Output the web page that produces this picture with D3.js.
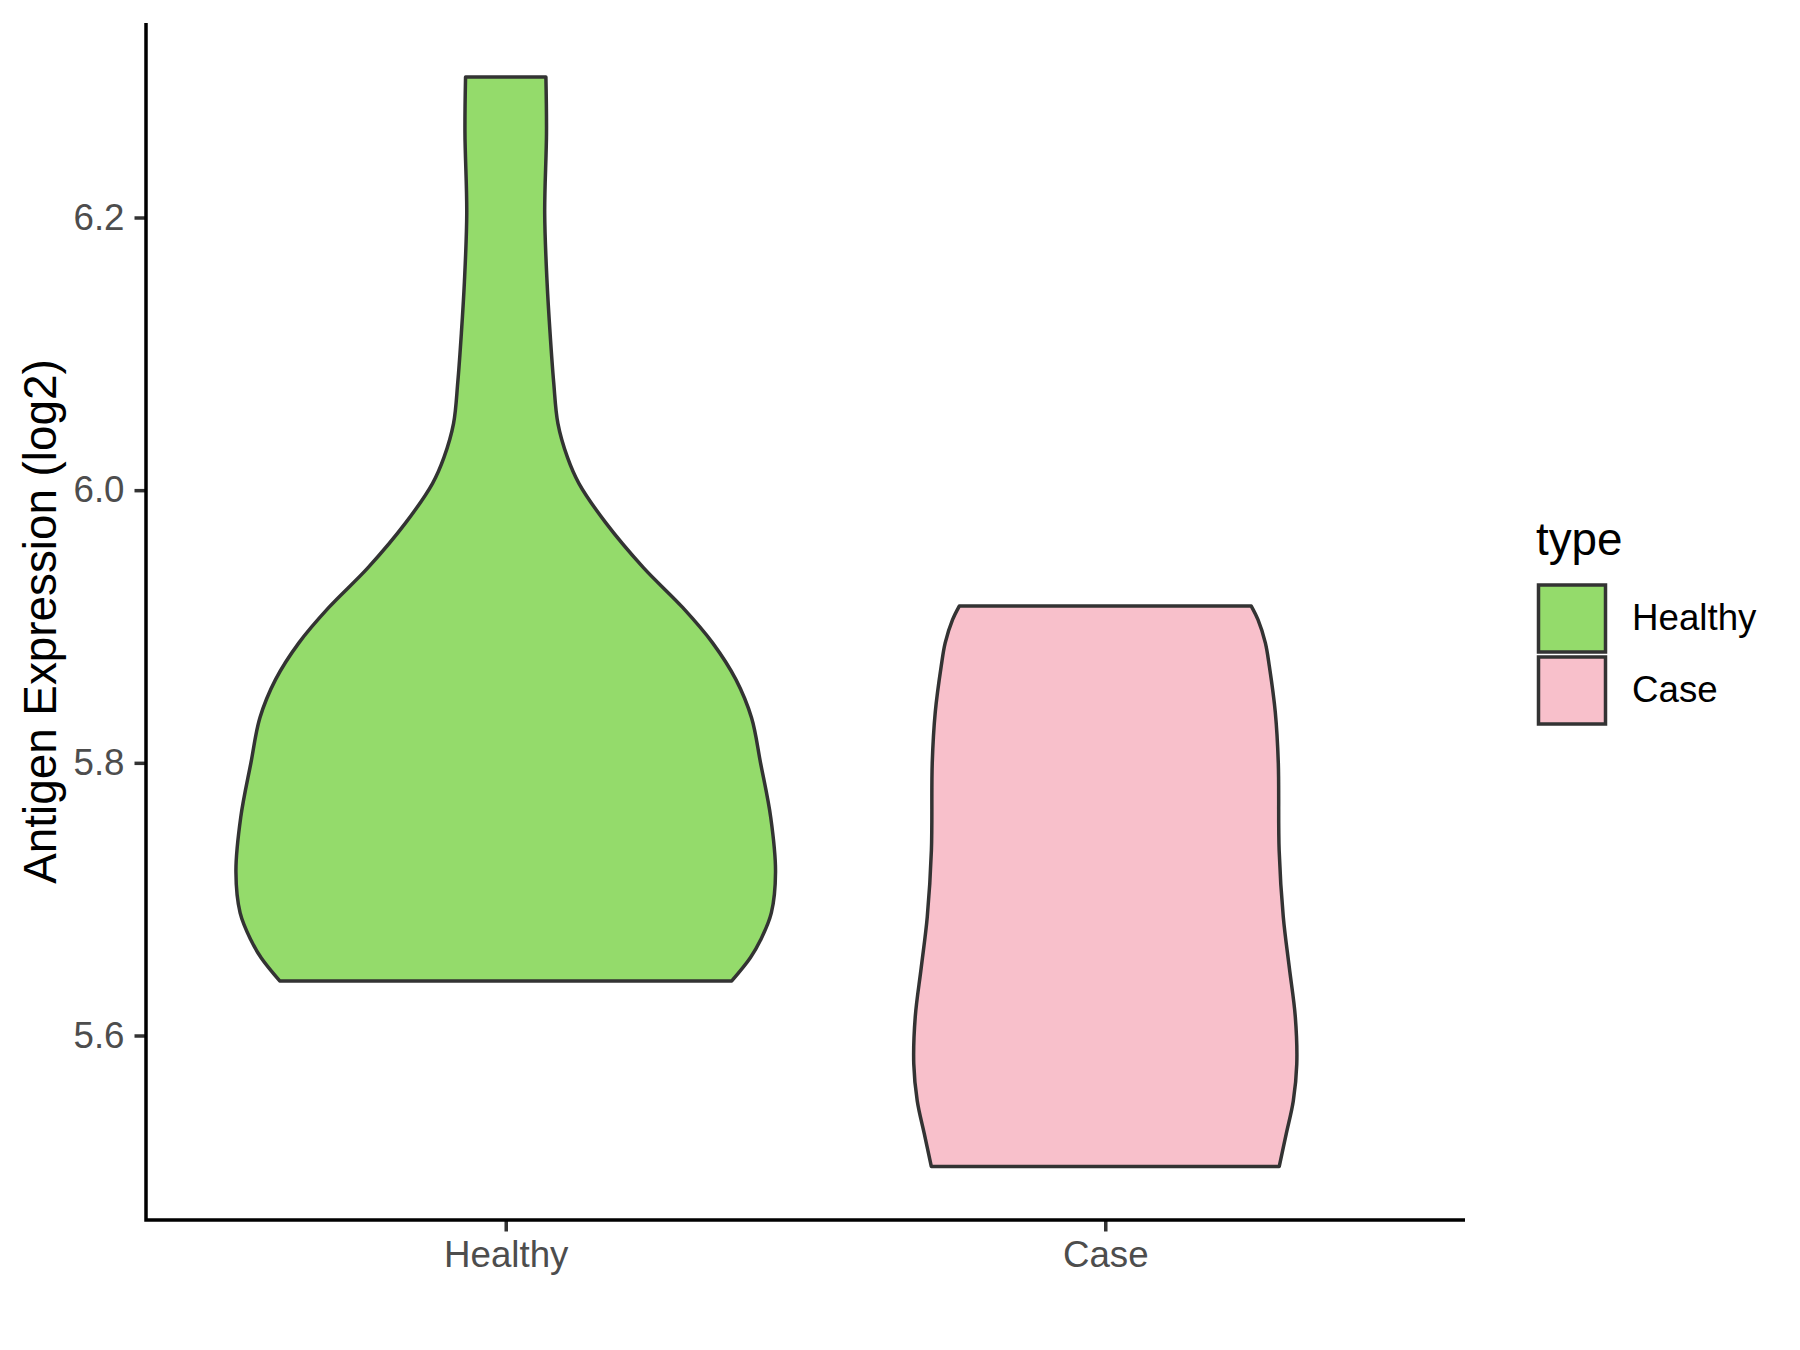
<html>
<head>
  <meta charset="utf-8">
  <style>
    body {
      margin: 0;
      background: #fff;
      font-family: "Liberation Sans", Arial, sans-serif;
    }
    .violin {
      stroke: #333333;
      stroke-width: 3.5px;
      stroke-linejoin: round;
    }
    .tick line {
      stroke: #333333;
      stroke-width: 3.5px;
    }
    .tick text {
      fill: #4d4d4d;
      font-size: 36.7px;
      font-family: "Liberation Sans", Arial, sans-serif;
    }
    .axisline {
      stroke: #000;
      stroke-width: 3.5px;
    }
  </style>
</head>
<body>
  <div class="chart"></div>

  <script src="https://cdn.jsdelivr.net/npm/d3@7"></script>
  <script>
    // data
    let categories = ["Healthy", "Case"];

    // violin outline: value and half width (in category units)
    let healthyValues = [6.303, 6.262, 6.203, 6.152, 6.115, 6.079, 6.049, 6.024, 6.005, 5.976, 5.943,
      5.914, 5.888, 5.861, 5.833, 5.800, 5.760, 5.720, 5.690, 5.670, 5.657, 5.640];
    let healthyHalfWidth = [0.067, 0.068, 0.065, 0.069, 0.074, 0.080, 0.087, 0.103, 0.122, 0.167, 0.230,
      0.295, 0.345, 0.384, 0.410, 0.425, 0.442, 0.450, 0.443, 0.425, 0.408, 0.377];

    let caseValues = [5.915, 5.905, 5.888, 5.871, 5.837, 5.800, 5.736, 5.687, 5.650, 5.614, 5.579,
      5.552, 5.528, 5.504];
    let caseHalfWidth = [0.2435, 0.2547, 0.267, 0.2736, 0.2836, 0.2886, 0.290, 0.2969, 0.3069, 0.3169,
      0.3194, 0.3136, 0.3019, 0.2902];

    let yTicks = [5.6, 5.8, 6.0, 6.2];

    let fills = ["#94DB6B", "#F8C0CB"];

    // setup
    let width = 1800, height = 1350;
    let panel = { left: 146, right: 1465, top: 23, bottom: 1220 };

    let svg = d3.select(".chart").append("svg")
      .attr("width", width)
      .attr("height", height);

    let x = d3.scalePoint()
      .domain(categories)
      .range([panel.left, panel.right])
      .padding(0.6);

    let y = d3.scaleLinear()
      .domain([5.6, 6.2])
      .range([1035.5, 217.5]);

    let violins = [
      { cat: "Healthy", values: healthyValues, half: healthyHalfWidth },
      { cat: "Case", values: caseValues, half: caseHalfWidth }
    ];

    violins.forEach(function (v, i) {
      let pts = v.values.map(function (d, j) { return { v: d, w: v.half[j] }; });
      let area = d3.area()
        .y(function (d) { return y(d.v); })
        .x0(function (d) { return x(v.cat) - d.w * x.step(); })
        .x1(function (d) { return x(v.cat) + d.w * x.step(); })
        .curve(d3.curveCatmullRom.alpha(0.5));
      svg.append("path")
        .datum(pts)
        .attr("class", "violin")
        .attr("fill", fills[i])
        .attr("d", area);
    });

    // axes
    let yAxis = d3.axisLeft(y)
      .tickValues(yTicks)
      .tickFormat(d3.format(".1f"))
      .tickSize(11.5)
      .tickPadding(10);
    let gy = svg.append("g")
      .attr("transform", "translate(" + panel.left + ",0)")
      .call(yAxis);
    gy.select(".domain").remove();

    let xAxis = d3.axisBottom(x)
      .tickSize(11.5)
      .tickPadding(9.5);
    let gx = svg.append("g")
      .attr("transform", "translate(0," + panel.bottom + ")")
      .call(xAxis);
    gx.select(".domain").remove();

    svg.append("path")
      .attr("class", "axisline")
      .attr("fill", "none")
      .attr("d", "M" + panel.left + "," + panel.top + "V" + panel.bottom + "H" + panel.right);

    // y axis title
    svg.append("text")
      .attr("transform", "rotate(-90)")
      .attr("x", -(panel.top + panel.bottom) / 2)
      .attr("y", 56)
      .style("text-anchor", "middle")
      .style("font-size", "45.8px")
      .attr("fill", "#000")
      .text("Antigen Expression (log2)");

    // legend
    let legend = svg.append("g").attr("transform", "translate(1536,0)");
    legend.append("text")
      .attr("x", 0)
      .attr("y", 555)
      .style("font-size", "45.8px")
      .attr("fill", "#000")
      .text("type");

    categories.forEach(function (c, i) {
      legend.append("rect")
        .attr("x", 2.5)
        .attr("y", 585 + i * 72)
        .attr("width", 67)
        .attr("height", 67)
        .attr("fill", fills[i])
        .attr("stroke", "#333333")
        .attr("stroke-width", 3.5);
      legend.append("text")
        .attr("x", 96)
        .attr("y", 630 + i * 72)
        .style("font-size", "36.7px")
        .attr("fill", "#000")
        .text(c);
    });
  </script>
</body>
</html>
